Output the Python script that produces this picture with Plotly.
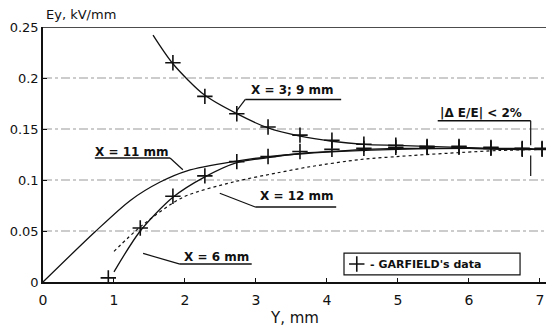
import plotly.graph_objects as go

# ---- data ----
x_ticks = [0, 1, 2, 3, 4, 5, 6, 7]
y_ticks = [0, 0.05, 0.1, 0.15, 0.2, 0.25]
y_tick_labels = ["0", "0.05", "0.1", "0.15", "0.2", "0.25"]

# curve X = 3; 9 mm
c39_x = [1.55, 1.83, 2.28, 2.73, 3.17, 3.62, 4.07, 4.52, 4.97, 5.41, 5.86, 6.31, 6.75, 7.03]
c39_y = [0.242, 0.214, 0.183, 0.165, 0.151, 0.143, 0.138, 0.135, 0.134, 0.133, 0.132, 0.131, 0.131, 0.130]

# curve X = 6 mm
c6_x = [1.0, 1.37, 1.83, 2.28, 2.73, 3.17, 3.62, 4.07, 4.52, 5.0, 5.5, 6.0, 6.5, 7.03]
c6_y = [0.010, 0.050, 0.083, 0.103, 0.117, 0.122, 0.126, 0.128, 0.130, 0.131, 0.131, 0.131, 0.130, 0.130]

# curve X = 11 mm
c11_x = [0, 0.73, 1.23, 1.65, 2.03, 2.68, 3.2, 3.7, 4.2, 5.0, 6.0, 7.03]
c11_y = [0, 0.049, 0.080, 0.098, 0.109, 0.118, 0.123, 0.126, 0.128, 0.130, 0.131, 0.130]

# curve X = 12 mm (dotted)
c12_x = [1.0, 1.37, 1.97, 2.68, 3.3, 3.76, 4.46, 5.2, 5.9, 6.44, 7.03]
c12_y = [0.030, 0.054, 0.083, 0.098, 0.107, 0.113, 0.120, 0.124, 0.127, 0.129, 0.130]

# GARFIELD's data points
g_upper_x = [1.83, 2.28, 2.73, 3.17, 3.62, 4.07, 4.52, 4.97, 5.41, 5.86, 6.31, 6.75, 7.03]
g_upper_y = [0.215, 0.182, 0.165, 0.152, 0.144, 0.139, 0.135, 0.134, 0.133, 0.133, 0.132, 0.131, 0.131]
g_lower_x = [0.92, 1.37, 1.83, 2.28, 2.73, 3.17, 3.62, 4.07, 4.52, 4.97, 5.41, 5.86, 6.31, 6.75, 7.03]
g_lower_y = [0.004, 0.053, 0.084, 0.104, 0.118, 0.123, 0.128, 0.130, 0.131, 0.132, 0.132, 0.132, 0.131, 0.130, 0.130]

BLACK = "#111111"
FONT = "DejaVu Sans"

fig = go.Figure()

def curve(x, y, dash="solid", width=1.3):
    fig.add_trace(go.Scatter(x=x, y=y, mode="lines", showlegend=False, hoverinfo="skip",
                             line=dict(color=BLACK, width=width, dash=dash, shape="spline", smoothing=0.8)))

curve(c39_x, c39_y)
curve(c6_x, c6_y)
curve(c11_x, c11_y)
curve(c12_x, c12_y, dash="dot", width=1.2)

marker = dict(symbol="cross-thin", size=11, line=dict(color=BLACK, width=1.6), color=BLACK)
fig.add_trace(go.Scatter(x=g_upper_x, y=g_upper_y, mode="markers", marker=marker, showlegend=False))
fig.add_trace(go.Scatter(x=g_lower_x, y=g_lower_y, mode="markers", marker=marker, showlegend=False))

# legend box cross
fig.add_trace(go.Scatter(x=[4.42], y=[0.0176], mode="markers", marker=marker, showlegend=False))

shapes = []
def seg(x0, y0, x1, y1, w=1.2, dash="solid"):
    shapes.append(dict(type="line", xref="x", yref="y", x0=x0, y0=y0, x1=x1, y1=y1,
                       line=dict(color=BLACK, width=w, dash=dash)))

# gridlines (dash-dot)
for g in [0.05, 0.1, 0.15, 0.2]:
    shapes.append(dict(type="line", xref="paper", yref="y", x0=0, x1=1, y0=g, y1=g,
                       line=dict(color="#999999", width=1, dash="dashdot"), layer="below"))
# top frame line
shapes.append(dict(type="line", xref="paper", yref="y", x0=0, x1=1, y0=0.25, y1=0.25,
                   line=dict(color=BLACK, width=1.3)))

# label underlines & leaders
seg(2.85, 0.179, 4.20, 0.179, 1.5)
seg(2.85, 0.179, 2.72, 0.167)
seg(0.73, 0.1216, 1.79, 0.1216, 1.5)
seg(1.79, 0.1216, 1.97, 0.110)
seg(2.99, 0.0735, 4.13, 0.0735, 1.5)
seg(2.49, 0.087, 2.99, 0.0735)
seg(1.93, 0.0176, 2.94, 0.0176, 1.5)
seg(1.41, 0.028, 1.93, 0.0176)
# |dE/E| bracket
seg(5.56, 0.158, 6.87, 0.158, 1.5)
seg(6.87, 0.158, 6.87, 0.134)
seg(6.87, 0.124, 6.87, 0.104)
# legend box
shapes.append(dict(type="rect", xref="x", yref="y", x0=4.24, x1=6.72, y0=0.0069, y1=0.0284,
                   line=dict(color=BLACK, width=1.2), fillcolor="white", layer="below"))

ann = []
def label(x, y, text, size=12, xanchor="center", bold=True):
    ann.append(dict(x=x, y=y, xref="x", yref="y", text=f"<b>{text}</b>" if bold else text,
                    showarrow=False, xanchor=xanchor, yanchor="middle",
                    font=dict(family=FONT, size=size, color=BLACK)))

label(3.52, 0.188, "X = 3; 9 mm")
label(1.25, 0.127, "X = 11 mm")
label(3.58, 0.084, "X = 12 mm")
label(2.45, 0.0245, "X = 6 mm")
label(6.17, 0.166, "|\u0394 E/E| < 2%")
label(4.58, 0.0176, "- GARFIELD's data", size=11, xanchor="left")

# page has an 8px body margin: figure is drawn offset by (8, 8)
OFF = 8
W, H = 554 - OFF, 328 - OFF
L, T = 43 - OFF, 27 - OFF
B = H - T - 255
R = W - L - (552 - 43)
pw, ph = W - L - R, H - T - B

def px_ann(px, py, text, size, xanchor="left"):
    fx, fy = px - OFF, py - OFF
    ann.append(dict(x=(fx - L) / pw, y=(H - fy - B) / ph, xref="paper", yref="paper",
                    text=text, showarrow=False, xanchor=xanchor, yanchor="middle",
                    font=dict(family=FONT, size=size, color=BLACK)))

px_ann(44, 15, "Ey, kV/mm", 13)
px_ann(294, 318, "Y, mm", 15, xanchor="center")

fig.update_layout(
    width=W, height=H,
    margin=dict(l=L, r=R, t=T, b=B, autoexpand=False),
    paper_bgcolor="white", plot_bgcolor="white",
    shapes=shapes, annotations=ann,
    xaxis=dict(range=[0, 7.17], tickvals=x_ticks, ticktext=[str(v) for v in x_ticks],
               showgrid=False, zeroline=False, showline=True, linecolor=BLACK, linewidth=1.5,
               ticks="inside", ticklen=4, tickcolor=BLACK, automargin=False,
               ticklabelstandoff=4,
               tickfont=dict(family=FONT, size=14, color=BLACK)),
    yaxis=dict(range=[0, 0.25], tickvals=y_ticks, ticktext=y_tick_labels,
               showgrid=False, zeroline=False, showline=True, linecolor=BLACK, linewidth=1.5,
               ticks="inside", ticklen=4, tickcolor=BLACK, automargin=False,
               tickfont=dict(family=FONT, size=13, color=BLACK)),
)

fig.write_html("out.html")
